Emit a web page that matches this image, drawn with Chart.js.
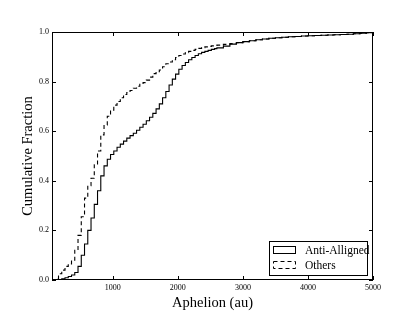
<!DOCTYPE html>
<html>
<head>
<meta charset="utf-8">
<script src="https://cdn.jsdelivr.net/npm/chart.js@4.4.1/dist/chart.umd.min.js"></script>
<style>
  html, body { margin: 0; padding: 0; background: #fff; }
  #wrap { width: 415px; height: 312px; }
</style>
</head>
<body>
<div id="wrap"><canvas id="cdfChart" width="415" height="312"></canvas></div>
<script>
// bin edges (au) and cumulative fraction at each edge
const aphelionEdges = [
  65, 115, 165, 215, 265, 315, 365, 415, 465, 515,
  565, 615, 665, 715, 765, 815, 865, 915, 965, 1015,
  1065, 1115, 1165, 1215, 1265, 1315, 1365, 1415, 1465, 1515,
  1565, 1615, 1665, 1715, 1765, 1815, 1865, 1915, 1965, 2015,
  2065, 2115, 2165, 2215, 2265, 2315, 2365, 2415, 2465, 2515,
  2565, 2600, 2700, 2800, 2900, 3000, 3100, 3200, 3300, 3400,
  3500, 3600, 3700, 3800, 3900, 4000, 4100, 4200, 4300, 4400,
  4500, 4600, 4700, 4800, 4900, 5000
];
const antiAligned = [
  0, 0, 0.002, 0.005, 0.009, 0.014, 0.02, 0.03, 0.055, 0.1,
  0.145, 0.2, 0.25, 0.305, 0.36, 0.42, 0.46, 0.487, 0.506, 0.52,
  0.535, 0.548, 0.56, 0.572, 0.582, 0.592, 0.604, 0.616, 0.628, 0.642,
  0.656, 0.672, 0.69, 0.71, 0.735, 0.76, 0.786, 0.81, 0.83, 0.85,
  0.865, 0.877, 0.888, 0.897, 0.905, 0.912, 0.918, 0.922, 0.926, 0.93,
  0.933, 0.936, 0.943, 0.951, 0.957, 0.961, 0.965, 0.969, 0.972, 0.975,
  0.977, 0.979, 0.981, 0.982, 0.984, 0.985, 0.986, 0.987, 0.988, 0.989,
  0.99, 0.991, 0.993, 0.995, 0.997, 1.0
];
const others = [
  0, 0.005, 0.025, 0.04, 0.055, 0.065, 0.08, 0.12, 0.18, 0.255,
  0.33, 0.38, 0.41, 0.465, 0.52, 0.585, 0.625, 0.66, 0.685, 0.705,
  0.72, 0.735, 0.748, 0.756, 0.764, 0.773, 0.781, 0.789, 0.796, 0.806,
  0.818, 0.832, 0.84, 0.847, 0.86, 0.872, 0.879, 0.888, 0.897, 0.905,
  0.911, 0.917, 0.922, 0.926, 0.93, 0.934, 0.937, 0.94, 0.942, 0.944,
  0.946, 0.947, 0.95, 0.953, 0.957, 0.961, 0.965, 0.969, 0.972, 0.975,
  0.977, 0.979, 0.981, 0.982, 0.984, 0.985, 0.986, 0.987, 0.988, 0.989,
  0.99, 0.991, 0.993, 0.995, 0.997, 1.0
];
const xTicks = [1000, 2000, 3000, 4000, 5000];
const yTicks = [0, 0.2, 0.4, 0.6, 0.8, 1.0];

const serif = "'Liberation Serif', 'DejaVu Serif', serif";

// histogram outline closes back down to zero at the last edge
function toPoints(vals) {
  const pts = aphelionEdges.map((x, i) => ({ x: x, y: vals[i] }));
  pts.push({ x: aphelionEdges[aphelionEdges.length - 1], y: 0 });
  return pts;
}

// axes frame with inward ticks on all four sides
const framePlugin = {
  id: "frame",
  beforeDatasetsDraw(chart) {
    const { ctx, chartArea: a, scales } = chart;
    ctx.save();
    ctx.strokeStyle = "#000";
    ctx.lineWidth = 1;
    ctx.strokeRect(a.left + 0.5, a.top + 0.5, a.width - 1, a.height - 1);
    ctx.beginPath();
    xTicks.forEach(v => {
      const px = Math.round(scales.x.getPixelForValue(v)) + 0.5;
      ctx.moveTo(px, a.bottom); ctx.lineTo(px, a.bottom - 4);
      ctx.moveTo(px, a.top); ctx.lineTo(px, a.top + 4);
    });
    yTicks.forEach(v => {
      const py = Math.round(scales.y.getPixelForValue(v)) + 0.5;
      ctx.moveTo(a.left, py); ctx.lineTo(a.left + 4, py);
      ctx.moveTo(a.right, py); ctx.lineTo(a.right - 4, py);
    });
    ctx.stroke();
    ctx.restore();
  }
};

// legend box in the lower right corner of the plot
const boxLegend = {
  id: "boxLegend",
  afterDraw(chart) {
    const { ctx, chartArea: a } = chart;
    const w = 98, h = 34;
    const left = a.right - 6 - w, top = a.bottom - 5 - h;
    ctx.save();
    ctx.fillStyle = "#fff";
    ctx.fillRect(left, top, w, h);
    ctx.strokeStyle = "#000";
    ctx.lineWidth = 1;
    ctx.strokeRect(left + 0.5, top + 0.5, w, h);
    ctx.font = "11.5px " + serif;
    ctx.textBaseline = "middle";
    chart.data.datasets.forEach((ds, i) => {
      const cy = top + 9 + i * 15;
      ctx.setLineDash(ds.borderDash || []);
      ctx.strokeRect(left + 4.5, cy - 3.5, 22, 7);
      ctx.setLineDash([]);
      ctx.fillStyle = "#000";
      ctx.fillText(ds.label, left + 36, cy + 0.5);
    });
    ctx.restore();
  }
};

new Chart(document.getElementById("cdfChart"), {
  type: "line",
  data: {
    datasets: [
      {
        label: "Anti-Alligned",
        data: toPoints(antiAligned),
        borderColor: "#000",
        borderWidth: 1.1,
        stepped: true,
        pointRadius: 0,
        fill: false
      },
      {
        label: "Others",
        data: toPoints(others),
        borderColor: "#000",
        borderWidth: 1.1,
        borderDash: [4, 3],
        stepped: true,
        pointRadius: 0,
        fill: false
      }
    ]
  },
  options: {
    responsive: false,
    animation: false,
    layout: { padding: { top: 32, right: 42, left: 0, bottom: 0 } },
    plugins: { legend: { display: false }, tooltip: { enabled: false } },
    scales: {
      x: {
        type: "linear",
        min: 65,
        max: 5000,
        grid: { display: false, drawTicks: false, tickLength: 0 },
        border: { display: false },
        afterBuildTicks: s => { s.ticks = xTicks.map(v => ({ value: v })); },
        afterFit: s => { s.height = 32; },
        ticks: {
          color: "#000",
          padding: 3,
          maxRotation: 0,
          font: { family: serif, size: 8 },
          callback: v => String(v)
        },
        title: {
          display: true,
          text: "Aphelion (au)",
          color: "#000",
          padding: { top: 2, bottom: 0 },
          font: { family: serif, size: 14.5, lineHeight: 1.2 }
        }
      },
      y: {
        min: 0,
        max: 1,
        grid: { display: false, drawTicks: false, tickLength: 0 },
        border: { display: false },
        afterBuildTicks: s => { s.ticks = yTicks.map(v => ({ value: v })); },
        afterFit: s => { s.width = 52; },
        ticks: {
          color: "#000",
          padding: 3,
          font: { family: serif, size: 8 },
          callback: v => Number(v).toFixed(1)
        },
        title: {
          display: true,
          text: "Cumulative Fraction",
          color: "#000",
          padding: { top: 19, bottom: 0 },
          font: { family: serif, size: 14.5, lineHeight: 1.2 }
        }
      }
    }
  },
  plugins: [framePlugin, boxLegend]
});
</script>
</body>
</html>
